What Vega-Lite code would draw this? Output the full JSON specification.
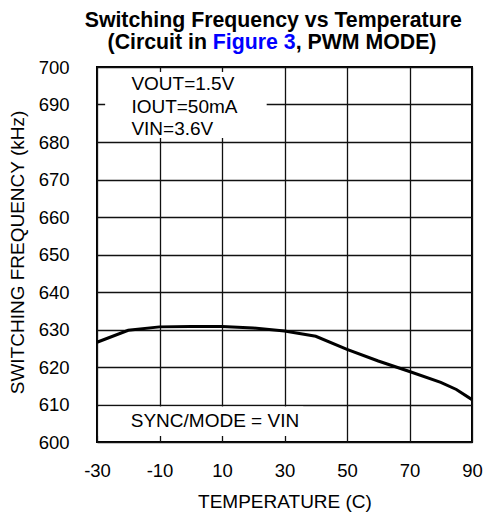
{
  "$schema": "https://vega.github.io/schema/vega-lite/v6.json",
  "width": 375,
  "height": 375,
  "autosize": {"type": "none"},
  "padding": {"left": 97, "top": 67, "right": 13, "bottom": 70},
  "background": "white",
  "config": {
    "font": "Liberation Sans",
    "view": {"stroke": "black", "strokeWidth": 2}
  },
  "encoding": {
    "x": {
      "field": "temp",
      "type": "quantitative",
      "scale": {"domain": [-30, 90], "nice": false, "zero": false},
      "axis": {
        "title": "TEMPERATURE (C)",
        "values": [-30, -10, 10, 30, 50, 70, 90],
        "labelExpr": "'' + datum.value",
        "grid": true,
        "gridColor": "#111111",
        "gridWidth": 1.3,
        "gridOpacity": 1,
        "ticks": false,
        "tickSize": 0,
        "domain": false,
        "labelFlush": false,
        "labelOverlap": false,
        "labelPadding": 19.5,
        "labelFontSize": 18.5,
        "labelColor": "black",
        "titleFontSize": 19,
        "titleFontWeight": "normal",
        "titleColor": "black",
        "titleY": 50,
        "titleBaseline": "top"
      }
    },
    "y": {
      "field": "freq",
      "type": "quantitative",
      "scale": {"domain": [600, 700], "nice": false, "zero": false},
      "axis": {
        "title": "SWITCHING FREQUENCY (kHz)",
        "values": [600, 610, 620, 630, 640, 650, 660, 670, 680, 690, 700],
        "grid": true,
        "gridColor": "#111111",
        "gridWidth": 1.3,
        "gridOpacity": 1,
        "ticks": false,
        "tickSize": 0,
        "domain": false,
        "labelFlush": false,
        "labelOverlap": false,
        "labelPadding": 28,
        "labelFontSize": 18.5,
        "labelColor": "black",
        "titleFontSize": 19,
        "titleFontWeight": "normal",
        "titleColor": "black",
        "titleAngle": -90,
        "titleX": -73.4,
        "titleY": 185,
        "titleBaseline": "alphabetic"
      }
    }
  },
  "layer": [
    {
      "data": {"values": [
        {"temp": -27.4, "temp_end": 24.3, "freq": 681.1, "freq_end": 698.7},
        {"temp": -29.5, "temp_end": 36, "freq": 601.6, "freq_end": 609.5}
      ]},
      "mark": {"type": "rect", "fill": "white", "stroke": null},
      "encoding": {
        "x2": {"field": "temp_end"},
        "y2": {"field": "freq_end"}
      }
    },
    {
      "data": {"values": [
        {"temp": -30, "freq": 626.6},
        {"temp": -20, "freq": 629.8},
        {"temp": -10, "freq": 630.7},
        {"temp": 0, "freq": 630.8},
        {"temp": 10, "freq": 630.8},
        {"temp": 20, "freq": 630.4},
        {"temp": 30, "freq": 629.6},
        {"temp": 40, "freq": 628.2},
        {"temp": 50, "freq": 624.7},
        {"temp": 60, "freq": 621.6},
        {"temp": 70, "freq": 618.8},
        {"temp": 80, "freq": 615.9},
        {"temp": 85, "freq": 614.0},
        {"temp": 90, "freq": 611.3}
      ]},
      "mark": {"type": "line", "color": "black", "strokeWidth": 3},
      "encoding": {}
    },
    {
      "data": {"values": [
        {"note": "VOUT=1.5V", "temp": -19, "freq": 693.9},
        {"note": "IOUT=50mA", "temp": -19, "freq": 687.7},
        {"note": "VIN=3.6V", "temp": -19, "freq": 681.9},
        {"note": "SYNC/MODE = VIN", "temp": -19.2, "freq": 604.1}
      ]},
      "mark": {"type": "text", "align": "left", "baseline": "alphabetic", "fontSize": 19, "color": "black"},
      "encoding": {"text": {"field": "note"}}
    },
    {
      "data": {"values": [{"note": "Switching Frequency vs Temperature", "temp": 26.4, "freq": 710.7}]},
      "mark": {"type": "text", "align": "center", "baseline": "alphabetic", "fontSize": 21.3, "fontWeight": "bold", "color": "black"},
      "encoding": {"text": {"field": "note"}}
    },
    {
      "data": {"values": [{"note": "(Circuit in", "temp": 26.4, "freq": 704.8}]},
      "mark": {"type": "text", "align": "right", "baseline": "alphabetic", "dx": -66.3, "fontSize": 21.3, "fontWeight": "bold", "color": "black"},
      "encoding": {"text": {"field": "note"}}
    },
    {
      "data": {"values": [{"note": "Figure 3", "temp": 26.4, "freq": 704.8}]},
      "mark": {"type": "text", "align": "left", "baseline": "alphabetic", "dx": -60.4, "fontSize": 21.3, "fontWeight": "bold", "color": "#0000FF"},
      "encoding": {"text": {"field": "note"}}
    },
    {
      "data": {"values": [{"note": ", PWM MODE)", "temp": 26.4, "freq": 704.8}]},
      "mark": {"type": "text", "align": "left", "baseline": "alphabetic", "dx": 22.4, "fontSize": 21.3, "fontWeight": "bold", "color": "black"},
      "encoding": {"text": {"field": "note"}}
    }
  ]
}
